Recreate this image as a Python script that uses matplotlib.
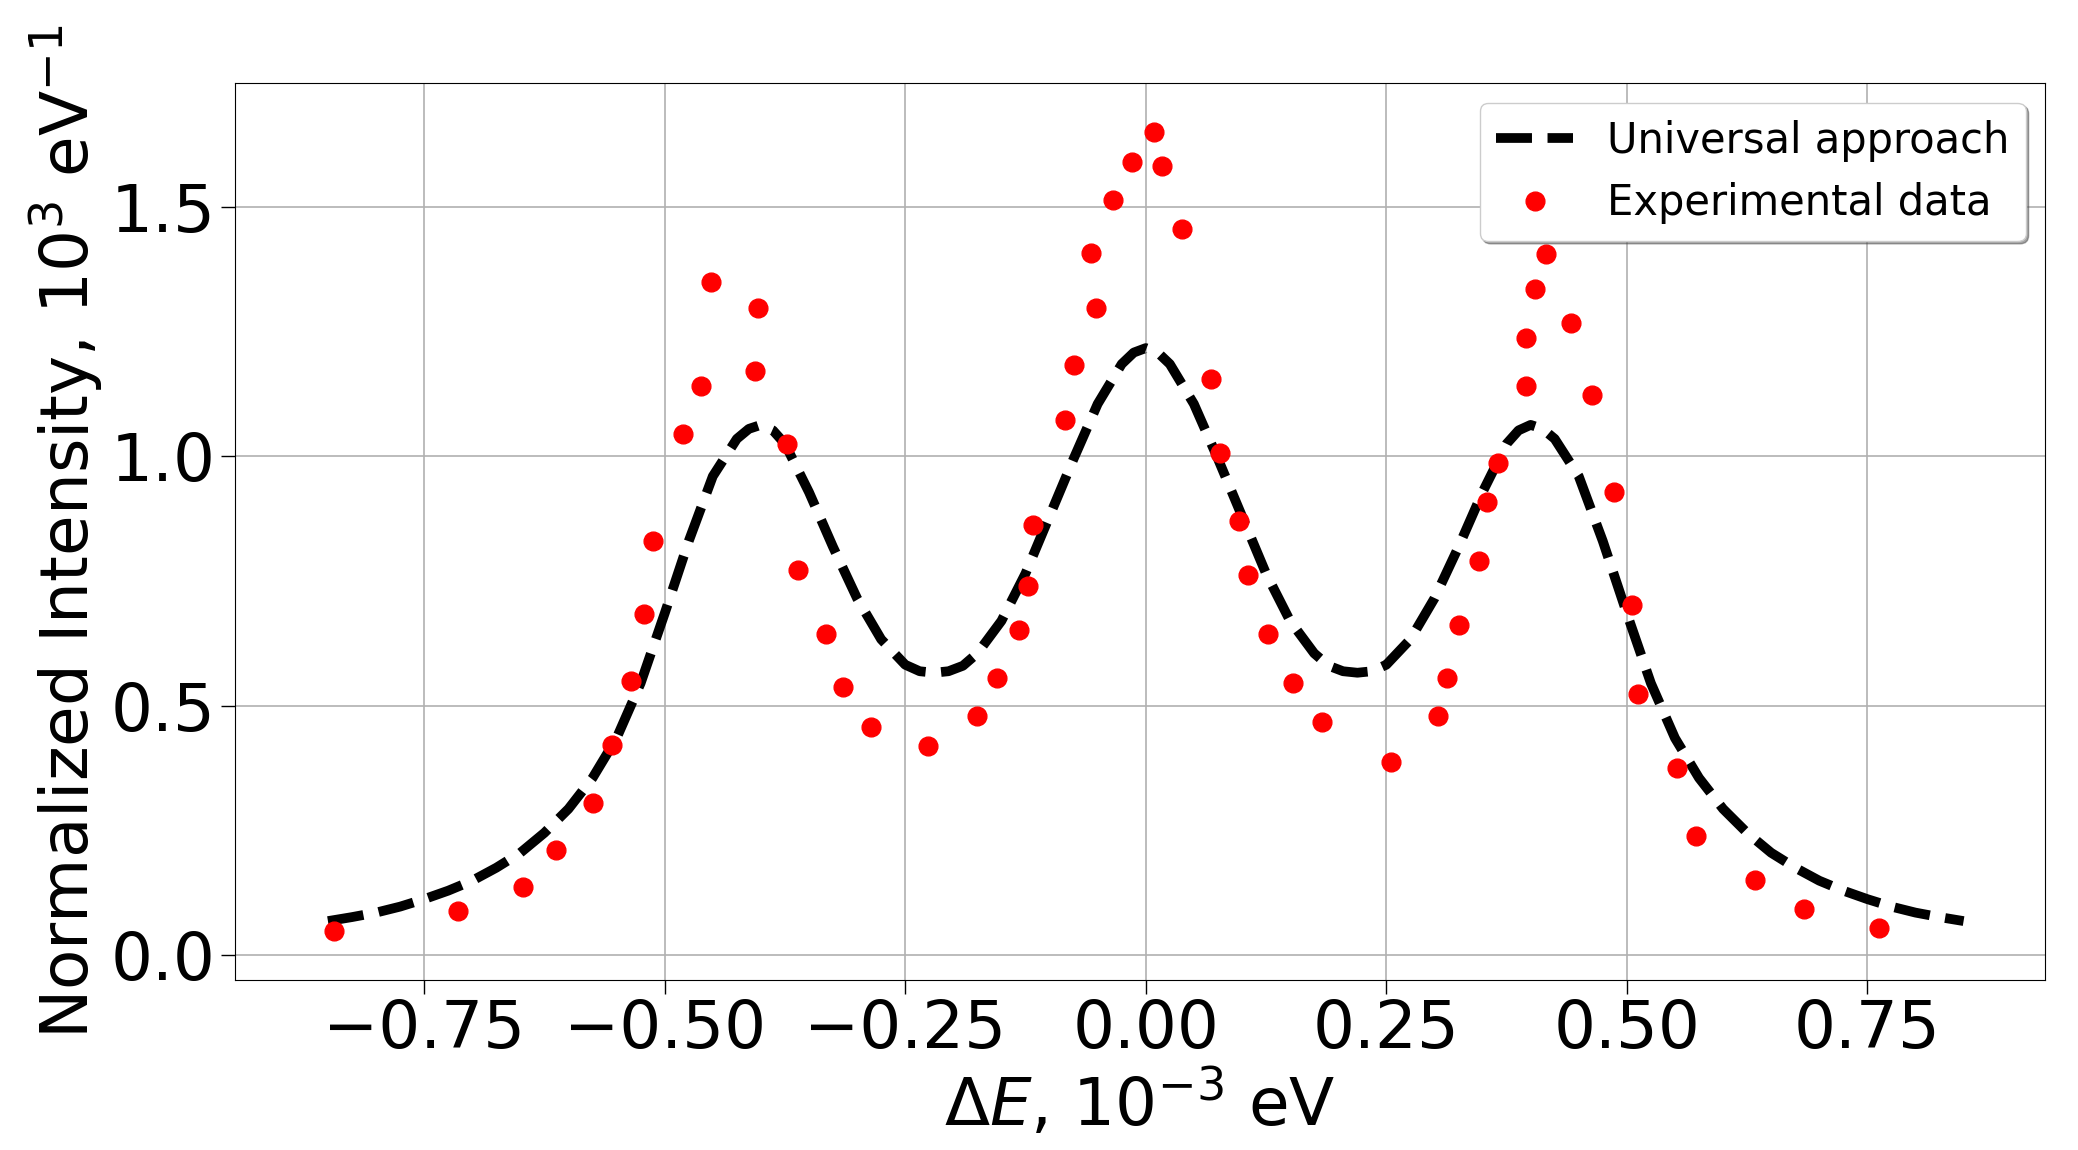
import matplotlib
matplotlib.use("Agg")
import matplotlib.pyplot as plt

exp_x = [-0.844, -0.715, -0.647, -0.613, -0.575, -0.555, -0.535, -0.521, -0.5125,
         -0.481, -0.462, -0.4515, -0.406, -0.403, -0.3725, -0.361, -0.3326, -0.315,
         -0.2855, -0.226, -0.175, -0.155, -0.1317, -0.1223, -0.117, -0.0835, -0.0745,
         -0.057, -0.052, -0.0336, -0.0138, 0.0087, 0.017, 0.0374, 0.068, 0.0776, 0.097,
         0.1067, 0.1268, 0.1528, 0.1836, 0.2547, 0.3042, 0.3129, 0.326, 0.346, 0.3545,
         0.366, 0.3947, 0.3957, 0.4044, 0.4158, 0.4418, 0.464, 0.487, 0.505, 0.512,
         0.5523, 0.5724, 0.633, 0.684, 0.762]
exp_y = [0.0475, 0.089, 0.136, 0.211, 0.305, 0.422, 0.549, 0.684, 0.830,
         1.045, 1.140, 1.349, 1.172, 1.298, 1.025, 0.771, 0.644, 0.537,
         0.457, 0.420, 0.479, 0.555, 0.651, 0.739, 0.862, 1.073, 1.183,
         1.408, 1.297, 1.513, 1.590, 1.650, 1.583, 1.456, 1.155, 1.007, 0.870,
         0.761, 0.644, 0.546, 0.467, 0.388, 0.479, 0.555, 0.661, 0.791, 0.908,
         0.9865, 1.237, 1.140, 1.336, 1.406, 1.267, 1.1235, 0.928, 0.702, 0.523,
         0.3756, 0.238, 0.150, 0.093, 0.055]

# Universal approach curve
uni_x = [-0.85, -0.825, -0.80, -0.775, -0.75, -0.725, -0.70, -0.675, -0.65, -0.625,
         -0.60, -0.575, -0.55, -0.525, -0.50, -0.475, -0.45, -0.425, -0.4125, -0.40,
         -0.3875, -0.375, -0.35, -0.325, -0.30, -0.275, -0.25, -0.235, -0.22, -0.205,
         -0.19, -0.175, -0.15, -0.125, -0.10, -0.075, -0.05, -0.025, -0.0125, 0.0,
         0.0125, 0.025, 0.05, 0.075, 0.10, 0.125, 0.15, 0.175, 0.19, 0.205, 0.22, 0.235,
         0.25, 0.275, 0.30, 0.325, 0.35, 0.375, 0.3875, 0.40, 0.4125, 0.425, 0.45,
         0.475, 0.50, 0.525, 0.55, 0.575, 0.60, 0.625, 0.65, 0.675, 0.70, 0.725, 0.75,
         0.775, 0.80, 0.825, 0.85]
uni_y = [0.068, 0.076, 0.085, 0.097, 0.112, 0.129, 0.149, 0.175, 0.205, 0.245,
         0.293, 0.355, 0.435, 0.545, 0.685, 0.830, 0.960, 1.035, 1.055, 1.063,
         1.052, 1.025, 0.928, 0.818, 0.715, 0.633, 0.582, 0.569, 0.566, 0.569,
         0.580, 0.605, 0.670, 0.765, 0.880, 0.995, 1.105, 1.185, 1.208, 1.217,
         1.208, 1.185, 1.105, 0.995, 0.880, 0.765, 0.670, 0.605, 0.580, 0.569, 0.566, 0.569,
         0.582, 0.633, 0.715, 0.818, 0.928, 1.025, 1.052, 1.063, 1.055, 1.035, 0.960,
         0.830, 0.685, 0.545, 0.435, 0.355, 0.293, 0.245, 0.205, 0.175, 0.149, 0.129, 0.112,
         0.097, 0.085, 0.076, 0.068]

x_ticks = [-0.75, -0.50, -0.25, 0.00, 0.25, 0.50, 0.75]
y_ticks = [0.0, 0.5, 1.0, 1.5]

fig = plt.figure(figsize=(20.78, 11.5), dpi=100)
ax = fig.add_axes([0.1129, 0.1481, 0.8714, 0.7795])

ax.plot(uni_x, uni_y, linestyle="--", color="black", linewidth=7,
        label="Universal approach", zorder=3)
ax.plot(exp_x, exp_y, linestyle="none", marker="o", color="red", markersize=13.5,
        label="Experimental data", zorder=4)

ax.set_xlim(-0.947, 0.935)
ax.set_ylim(-0.0495, 1.748)
ax.set_xticks(x_ticks)
ax.set_yticks(y_ticks)
ax.tick_params(labelsize=47.5, length=10, width=1)
ax.grid(True, color="#b0b0b0", linewidth=1.2)
ax.set_axisbelow(True)

ax.set_xlabel(r"$\Delta E$, $10^{-3}$ eV", fontsize=47.5, labelpad=4)
ax.set_ylabel(r"Normalized Intensity, $10^{3}$ eV$^{-1}$", fontsize=47.5)

ax.legend(loc="upper right", fontsize=30, shadow=True, fancybox=True,
          handlelength=1.85, borderaxespad=0.47, framealpha=1)

fig.savefig("out.png", dpi=100)
